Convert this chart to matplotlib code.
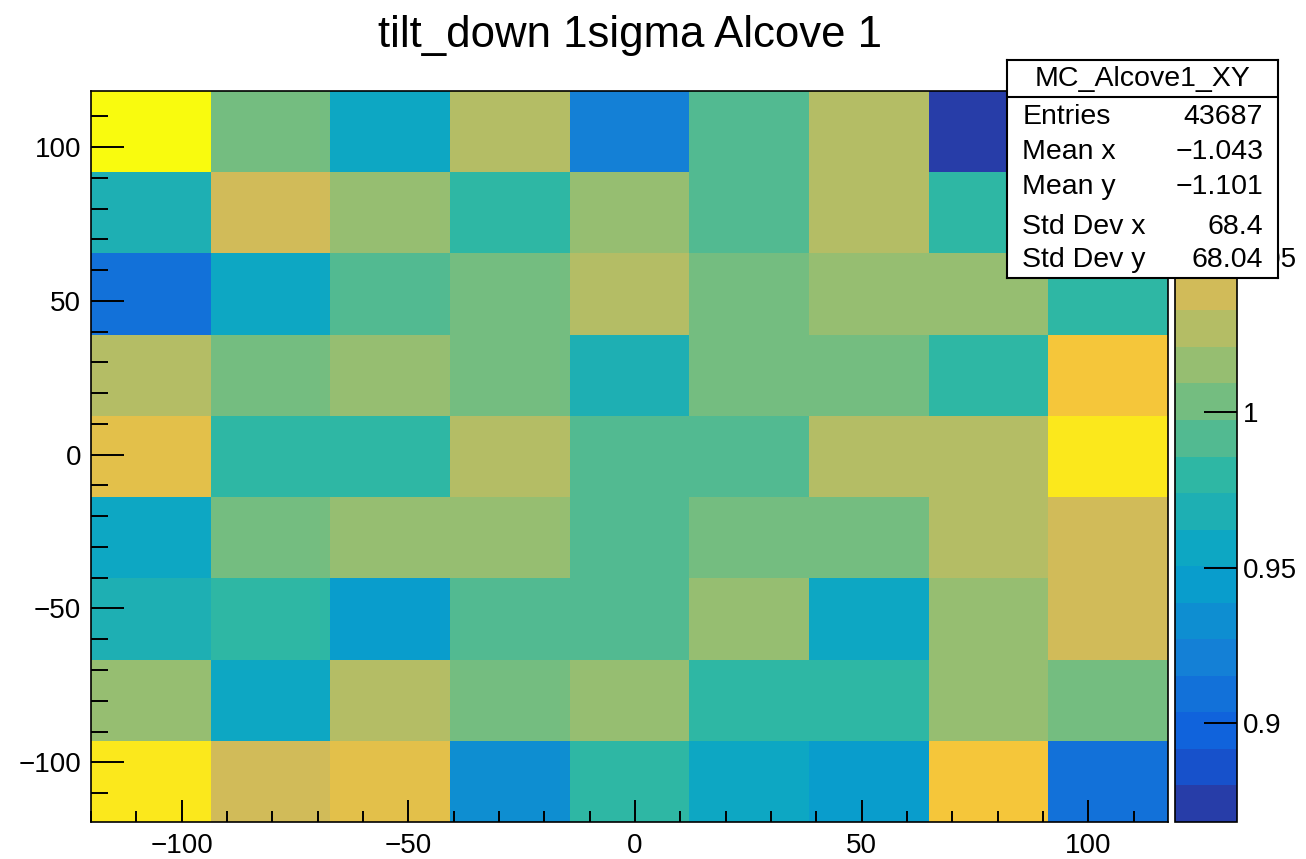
import numpy as np
import matplotlib.pyplot as plt
from matplotlib.colors import LinearSegmentedColormap, ListedColormap, BoundaryNorm
from matplotlib.ticker import MultipleLocator

plt.rcParams['font.family'] = ['Liberation Sans', 'DejaVu Sans']

# ROOT kBird palette
bird_stops = [0.0000, 0.1250, 0.2500, 0.3750, 0.5000, 0.6250, 0.7500, 0.8750, 1.0000]
bird_red = [0.2082, 0.0592, 0.0780, 0.0232, 0.1802, 0.5301, 0.8186, 0.9956, 0.9764]
bird_green = [0.1664, 0.3599, 0.5041, 0.6419, 0.7178, 0.7492, 0.7328, 0.7862, 0.9832]
bird_blue = [0.5293, 0.8684, 0.8385, 0.7914, 0.6425, 0.4662, 0.3499, 0.1968, 0.0539]

# bin edges
x_edges = [-120.0, -93.6, -67.2, -40.8, -14.4, 12.0, 38.4, 64.8, 91.2, 117.6]
y_edges = [-119.4, -93.0, -66.6, -40.2, -13.8, 12.6, 39.0, 65.4, 91.8, 118.2]

# bin contents, top row first
ratio = [
    [1.1030, 1.0035, 0.9564, 1.0270, 0.9210, 0.9917, 1.0270, 0.8685, 0.9917],
    [0.9681, 1.0388, 1.0152, 0.9799, 1.0152, 0.9917, 1.0270, 0.9799, 0.9917],
    [0.9092, 0.9564, 0.9917, 1.0035, 1.0270, 1.0035, 1.0152, 1.0152, 0.9799],
    [1.0270, 1.0035, 1.0152, 1.0035, 0.9681, 1.0035, 1.0035, 0.9799, 1.0624],
    [1.0506, 0.9799, 0.9799, 1.0270, 0.9917, 0.9917, 1.0270, 1.0270, 1.0859],
    [0.9564, 1.0035, 1.0152, 1.0152, 0.9917, 1.0035, 1.0035, 1.0270, 1.0388],
    [0.9681, 0.9799, 0.9446, 0.9917, 0.9917, 1.0152, 0.9564, 1.0152, 1.0388],
    [1.0152, 0.9564, 1.0270, 1.0035, 1.0152, 0.9799, 0.9799, 1.0152, 1.0035],
    [1.0859, 1.0388, 1.0506, 0.9328, 0.9799, 0.9564, 0.9446, 1.0624, 0.9092],
]
z_min = 0.868
z_max = 1.1036

cbar_ticks = [0.9, 0.95, 1.0, 1.05]
cbar_labels = ['0.9', '0.95', '1', '1.05']

stat_names = ['Entries', 'Mean x', 'Mean y', 'Std Dev x', 'Std Dev y']
stat_values = ['43687', '\u22121.043', '\u22121.101', '68.4', '68.04']

# 255 colour palette, 20 contour levels picked like THistPainter does
n_colors = 255
n_levels = 20
bird = LinearSegmentedColormap.from_list(
    'bird', [(s, (r, g, b)) for s, r, g, b in zip(bird_stops, bird_red, bird_green, bird_blue)], N=n_colors)
level_colors = [bird(int((i + 0.99) * n_colors / n_levels)) for i in range(n_levels)]
cmap = ListedColormap(level_colors)
norm = BoundaryNorm(np.linspace(z_min, z_max, n_levels + 1), n_levels)

fig = plt.figure(figsize=(13.06, 8.59), dpi=100)
W, H = 1306, 859

def px_box(l, t, r, b):
    return [l / W, 1 - b / H, (r - l) / W, (b - t) / H]

ax = fig.add_axes(px_box(91, 91, 1168, 822))
mesh = ax.pcolormesh(x_edges, y_edges, np.flipud(np.array(ratio)), cmap=cmap, norm=norm,
                     edgecolors='none', antialiased=False)
ax.set_xlim(x_edges[0], x_edges[-1])
ax.set_ylim(y_edges[0], y_edges[-1])
ax.set_xticks([-100, -50, 0, 50, 100])
ax.set_yticks([-100, -50, 0, 50, 100])
ax.xaxis.set_minor_locator(MultipleLocator(10))
ax.yaxis.set_minor_locator(MultipleLocator(10))
# tick lengths in points (px * 0.72)
ax.tick_params(axis='both', which='both', direction='in', top=False, right=False,
               labelsize=20, width=1.4, color='black')
ax.tick_params(axis='x', which='major', length=16, pad=8)
ax.tick_params(axis='x', which='minor', length=8)
ax.tick_params(axis='y', which='major', length=24, pad=7)
ax.tick_params(axis='y', which='minor', length=12)
for spine in ax.spines.values():
    spine.set_linewidth(1.2)
ax.set_title('tilt_down 1sigma Alcove 1', fontsize=31.5, pad=32)

# palette axis
cax = fig.add_axes(px_box(1175, 91, 1237, 822))
cb = fig.colorbar(mesh, cax=cax, ticks=cbar_ticks)
cb.ax.set_yticklabels(cbar_labels)
cb.ax.minorticks_off()
cb.ax.tick_params(direction='in', length=24, width=1.4, labelsize=20, pad=4)
cb.outline.set_linewidth(1.2)

# stats box
sax = fig.add_axes(px_box(1007, 60, 1278, 278))
sax.set_xlim(0, 1)
sax.set_ylim(0, 1)
sax.set_xticks([])
sax.set_yticks([])
sax.set_facecolor('white')
for spine in sax.spines.values():
    spine.set_linewidth(1.5)
sax.axhline(0.832, color='black', lw=1.5)
sax.text(0.5, 0.913, 'MC_Alcove1_XY', ha='center', va='center', fontsize=20.5)
row_y = [0.739, 0.578, 0.417, 0.234, 0.083]
for name, val, yy in zip(stat_names, stat_values, row_y):
    sax.text(0.056, yy, name, ha='left', va='center', fontsize=20.5)
    sax.text(0.945, yy, val, ha='right', va='center', fontsize=20.5)

fig.savefig('out.png', dpi=100)
